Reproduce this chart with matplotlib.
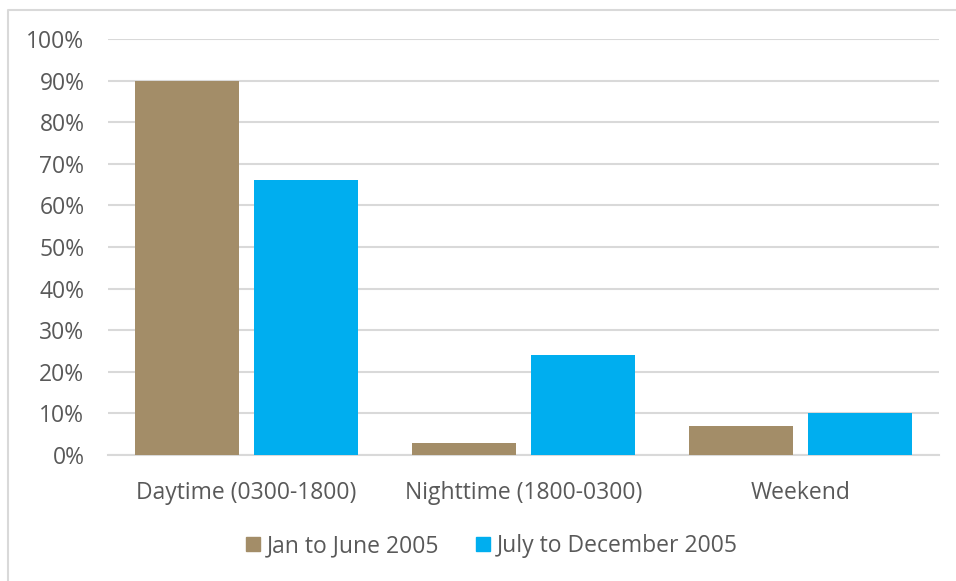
import numpy as np
import matplotlib
matplotlib.use("Agg")
import matplotlib.pyplot as plt
from matplotlib.lines import Line2D
from matplotlib.ticker import PercentFormatter

categories = ["Daytime (0300-1800)", "Nighttime (1800-0300)", "Weekend"]
series_names = ["Jan to June 2005", "July to December 2005"]
jan_june = [90, 3, 7]
july_dec = [66, 24, 10]

colors = ["#A38D68", "#00AEEF"]
text_color = "#595959"
grid_color = "#D9D9D9"

plt.rcParams["font.family"] = ["Open Sans", "DejaVu Sans"]
FS = 16.5

W, H = 956, 581
fig = plt.figure(figsize=(W / 100, H / 100), dpi=100)
ax = fig.add_axes([108 / W, 1 - 455 / H, (939 - 108) / W, (455 - 39) / H])

x = np.arange(len(categories))
width = 0.375
offset = 0.216
ax.bar(x - offset, jan_june, width, color=colors[0], label=series_names[0], zorder=3)
ax.bar(x + offset, july_dec, width, color=colors[1], label=series_names[1], zorder=3)

ax.set_xlim(-0.5, len(categories) - 0.5)
ax.set_ylim(0, 100)
ax.set_yticks(np.arange(0, 101, 10))
ax.yaxis.set_major_formatter(PercentFormatter(decimals=0))
ax.set_xticks(x)
ax.set_xticklabels(categories)

ax.grid(axis="y", color=grid_color, linewidth=1.5, zorder=0)
for side in ["top", "right", "left"]:
    ax.spines[side].set_visible(False)
ax.spines["bottom"].set_color(grid_color)
ax.spines["bottom"].set_linewidth(1.5)
ax.tick_params(axis="both", length=0, labelsize=FS, colors=text_color)
ax.tick_params(axis="y", pad=17)
ax.tick_params(axis="x", pad=19)

handles = [plt.Rectangle((0, 0), 1, 1, color=c) for c in colors]
fig.legend(handles, series_names, loc="center", bbox_to_anchor=(492 / W, 1 - 546 / H),
           ncol=2, frameon=False, fontsize=FS, labelcolor=text_color,
           handlelength=0.6, handleheight=0.6, handletextpad=0.3, columnspacing=1.6)

# chart frame (top and left edges)
fig.add_artist(Line2D([8 / W, 8 / W, 1], [0, 1 - 10 / H, 1 - 10 / H],
                      transform=fig.transFigure, color=grid_color, linewidth=1.5))

fig.savefig("out.png", dpi=100)
